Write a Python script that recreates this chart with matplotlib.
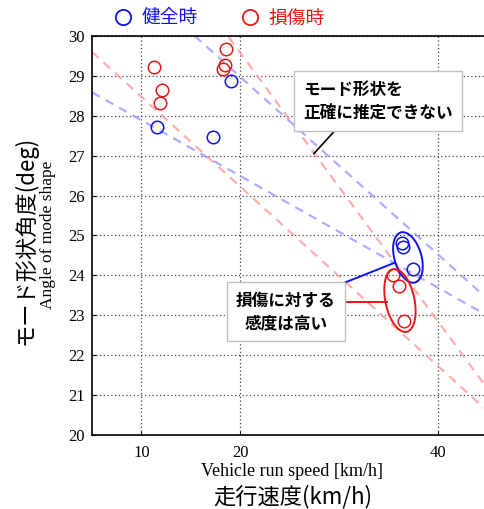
import matplotlib.pyplot as plt
from matplotlib.patches import Ellipse
from matplotlib.transforms import ScaledTranslation
from matplotlib.lines import Line2D

plt.rcParams['font.family'] = ['Noto Sans CJK JP', 'DejaVu Sans']
serif = 'Liberation Serif'

# healthy (blue) / damaged (red) measurements: speed [km/h], angle [deg]
healthy_speed = [11.55, 17.2, 19.05, 36.4, 36.5, 37.5]
healthy_angle = [27.71, 27.46, 28.87, 24.80, 24.70, 24.17]
damaged_speed = [11.25, 12.05, 11.85, 18.55, 18.45, 18.3, 35.5, 36.1, 36.6]
damaged_angle = [29.22, 28.64, 28.32, 29.67, 29.27, 29.17, 24.0, 23.74, 22.86]

# dashed guide lines (end points)
healthy_guides = [([5, 44.68], [28.59, 23.04]), ([15.4, 44.68], [30.0, 23.49])]
damaged_guides = [([5, 44.68], [29.6, 20.68]), ([18.85, 44.68], [29.97, 21.28])]

xticks = [10, 20, 40]
yticks = list(range(20, 31))

blue = '#1010f0'
red = '#e81818'

fig = plt.figure(figsize=(4.84, 5.09), dpi=100)
ax = fig.add_axes([92/484, 74/509, 392/484, 399/509])

for xs, ys in healthy_guides:
    ax.plot(xs, ys, color='#9999ff', lw=1.6, ls=(0, (4, 3)), alpha=0.8, zorder=2)
for xs, ys in damaged_guides:
    ax.plot(xs, ys, color='#ff9a9a', lw=1.6, ls=(0, (4, 3)), alpha=0.8, zorder=2)

ax.plot(healthy_speed, healthy_angle, 'o', mfc='none', mec=blue, ms=9, mew=1.1, zorder=4)
ax.plot(damaged_speed, damaged_angle, 'o', mfc='none', mec=red, ms=9, mew=1.1, zorder=4)

# ellipses around the high-speed groups (size in inches)
for c, (cx, cy), w, h, ang in [(blue, (36.98, 24.45), 0.27, 0.52, 16),
                               (red, (36.17, 23.37), 0.29, 0.64, 12)]:
    e = Ellipse((0, 0), w, h, angle=ang, fill=False, ec=c, lw=1.4,
                transform=fig.dpi_scale_trans + ScaledTranslation(cx, cy, ax.transData), zorder=5)
    ax.add_patch(e)

ax.set_xlim(5, 44.68)
ax.set_ylim(20, 30)
ax.set_xticks(xticks)
ax.set_yticks(yticks)
ax.tick_params(direction='in', length=3, width=0.8)
ax.tick_params(axis='y', pad=5)
ax.tick_params(axis='x', pad=7)
for lab in ax.get_xticklabels() + ax.get_yticklabels():
    lab.set_family(serif)
    lab.set_fontsize(12)
ax.grid(True, ls=(0, (1, 2)), color='#444444', lw=0.9)
ax.spines['right'].set_visible(False)
for s in ['left', 'bottom', 'top']:
    ax.spines[s].set_linewidth(1.2)

# annotations
ax.annotate('モード形状を\n正確に推定できない', xy=(27.45, 27.05), xytext=(26.34, 28.37),
            ha='left', va='center', fontsize=12, fontweight='bold', linespacing=1.35,
            bbox=dict(boxstyle='square,pad=0.55', fc='white', ec='#c0c0c0', lw=1),
            arrowprops=dict(arrowstyle='-', color='black', lw=1.2, shrinkA=0, shrinkB=0, relpos=(0.27, 0)),
            zorder=6)
ax.text(24.62, 23.09, '損傷に対する\n感度は高い', ha='center', va='center', fontsize=12,
        fontweight='bold', linespacing=1.35, zorder=6,
        bbox=dict(boxstyle='square,pad=0.55', fc='white', ec='#c0c0c0', lw=1))
ax.plot([28.77, 35.66], [23.64, 24.32], color=blue, lw=1.4, zorder=5)
ax.plot([30.08, 34.85], [23.34, 23.34], color=red, lw=1.4, zorder=5)

# axis titles
fig.text(25/484, 1 - 240/509, 'モード形状角度(deg)', rotation=90, ha='center', va='center', fontsize=16)
fig.text(48/484, 1 - 235/509, 'Angle of mode shape', rotation=90, ha='center', va='center',
         fontsize=12.5, family=serif)
fig.text(292/484, 1 - 472/509, 'Vehicle run speed [km/h]', ha='center', va='center',
         fontsize=13, family=serif)
fig.text(293/484, 1 - 497/509, '走行速度(km/h)', ha='center', va='center', fontsize=16)

handles = [Line2D([], [], marker='o', ls='none', mfc='none', mec=blue, ms=11, mew=1.3),
           Line2D([], [], marker='o', ls='none', mfc='none', mec=red, ms=11, mew=1.3)]
fig.legend(handles, ['健全時', '損傷時'], loc='center', bbox_to_anchor=(218/484, 1 - 18/509),
           ncol=2, frameon=False, fontsize=13.5, handlelength=1.2, handletextpad=0.38,
           columnspacing=2.2, borderpad=0, labelcolor=[blue, red])

fig.savefig('out.png', dpi=100)
